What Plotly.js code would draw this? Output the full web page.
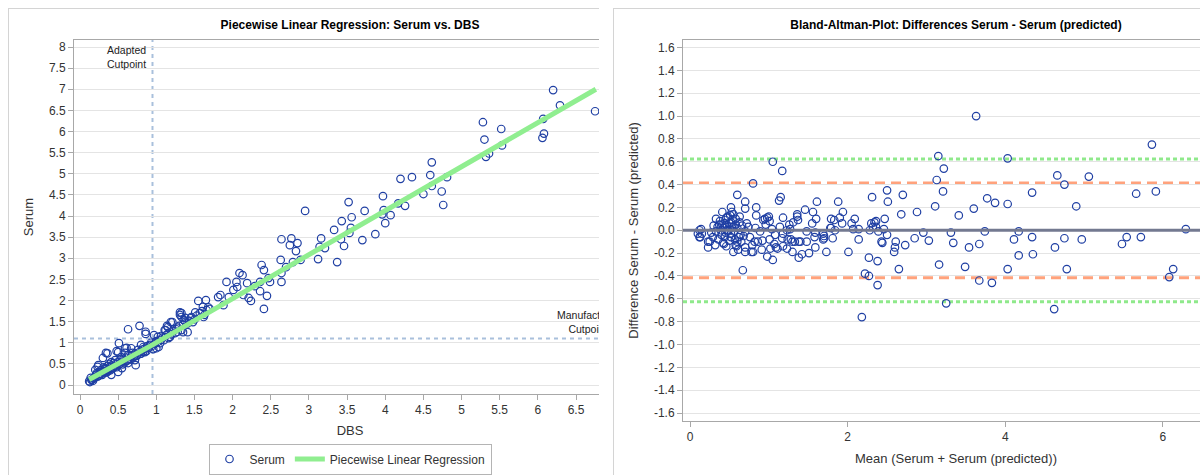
<!DOCTYPE html>
<html>
<head>
<meta charset="utf-8">
<script src="https://cdn.plot.ly/plotly-3.0.1.min.js"></script>
<style>
  html, body { margin: 0; padding: 0; background: #ffffff; width: 1200px; height: 475px; overflow: hidden; }
  .clip { position: absolute; top: 0; height: 475px; overflow: hidden; background: #fff; }
  .frame { position: absolute; border: 1px solid #d4d4d4; pointer-events: none; z-index: 5; }
  .plot { position: absolute; left: 0; top: 0; }
</style>
</head>
<body>
<div class="clip" id="clipL" style="left:0px;width:599px;">
  <div class="plot" id="left"></div>
  <div class="frame" style="left:8px;top:8px;width:683px;height:500px;"></div>
</div>
<div class="clip" id="clipR" style="left:600px;width:600px;">
  <div class="plot" id="right"></div>
  <div class="frame" style="left:13px;top:8px;width:700px;height:500px;"></div>
</div>
<script>
// ---------------- Left panel data: Serum vs. DBS ----------------
const dbs = [
  2.95,2.64,2.77,3.16,3.33,3.43,3.52,3.56,3.55,3.53,3.42,3.70,3.73,3.87,3.97,3.96,3.98,4.00,4.07,4.20,4.17,4.26,4.35,4.50,4.59,4.61,4.61,4.74,4.76,4.81,
  5.28,5.30,5.32,5.36,5.52,5.53,6.07,6.08,6.06,6.20,6.29,6.75,
  2.75,2.85,2.83,3.14,3.21,3.12,3.37,3.46,2.63,2.70,2.79,2.89,2.38,2.41,2.47,2.49,2.64,2.64,2.36,2.29,2.36,2.45,2.41,
  2.09,2.13,2.05,1.92,2.06,2.01,2.14,2.21,2.24,2.19,1.95,1.88,1.81,1.84,1.55,1.65,1.61,1.62,1.66,1.51,1.46,1.41,1.31,1.33,1.36,
  1.28,1.33,1.21,1.14,1.12,1.16,1.06,1.00,0.97,1.03,0.96,0.86,0.86,0.78,0.63,0.51,0.73,0.61,0.80,0.83,0.48,0.36,0.23,0.55,
  0.34,0.50,0.59,0.67,0.30,0.24,0.20,0.14,0.13,0.17,0.21,0.26,0.33,0.39,0.41,0.46,0.54,0.59,0.63,0.69,0.76,0.83,0.85,0.92,
  1.00,1.05,1.11,1.19,1.15,1.31,1.33,1.38,1.35,1.41,1.48,1.02,1.06,1.18,1.25,0.41,0.50,0.63,0.72,
  0.15,0.18,0.20,0.22,0.25,0.27,0.28,0.30,0.31,0.32,0.34,0.35,0.36,0.37,0.38,0.40,0.42,0.43,0.44,0.45,0.47,0.48,0.50,0.52,0.53,
  0.55,0.57,0.58,0.60,0.62,0.64,0.66,0.68,0.70,0.72,0.75,0.78,0.80,0.82,0.85,0.88,0.90,0.93,0.95,0.98,1.02,1.08,1.10,1.13,1.16,
  1.20,1.22,1.26,1.28,1.30,1.35,1.38,1.43,1.45,1.50,1.53,1.57,1.60,1.63,1.68,1.70,
  0.12,0.16,0.19,0.23,0.26,0.29,0.33,0.37,0.40,0.44,0.49,0.56,0.61,0.65,0.71,0.74,0.79,0.87
];
const serum = [
  4.12,3.45,3.47,3.47,3.67,3.88,4.33,3.97,3.72,3.60,3.45,3.43,4.12,3.57,4.47,4.04,4.14,3.83,4.02,4.88,4.30,4.24,4.92,4.52,4.97,5.27,4.71,4.58,4.26,4.92,
  6.22,5.81,5.40,5.48,6.06,5.67,6.30,5.95,5.85,6.98,6.62,6.48,
  3.31,3.36,3.17,3.27,3.24,2.98,2.91,3.29,2.96,2.79,2.91,2.96,2.84,2.72,2.53,2.44,2.65,2.44,2.44,2.34,2.22,2.11,1.80,
  2.65,2.60,2.44,2.44,2.32,2.25,2.13,2.06,1.99,2.41,2.08,1.89,2.08,2.13,1.99,2.01,1.85,1.61,1.77,1.72,1.61,1.46,1.72,1.61,1.54,
  1.26,1.30,1.49,1.40,1.30,1.11,1.16,1.04,1.18,0.90,0.85,1.26,1.21,1.40,1.32,0.99,0.47,0.88,0.95,0.79,0.80,0.75,0.43,0.40,
  0.76,0.78,0.87,0.87,0.64,0.47,0.36,0.17,0.07,0.10,0.24,0.31,0.40,0.43,0.54,0.59,0.66,0.76,0.71,0.76,0.83,0.90,0.78,0.95,
  0.87,0.99,1.30,1.49,1.37,1.66,1.70,1.59,1.25,1.25,1.49,1.14,1.07,1.14,1.23,0.24,0.31,0.52,0.59,
  0.12,0.15,0.20,0.28,0.22,0.35,0.26,0.30,0.42,0.33,0.38,0.30,0.45,0.36,0.50,0.38,0.46,0.40,0.52,0.44,0.50,0.42,0.55,0.50,0.60,
  0.55,0.62,0.52,0.65,0.58,0.68,0.62,0.70,0.66,0.75,0.70,0.78,0.74,0.84,0.86,0.92,0.88,1.00,0.93,0.98,1.02,1.12,1.06,1.18,1.22,
  1.20,1.28,1.32,1.36,1.40,1.42,1.50,1.52,1.58,1.55,1.64,1.70,1.75,1.66,1.84,1.80,
  0.09,0.13,0.17,0.20,0.25,0.24,0.30,0.33,0.35,0.41,0.45,0.49,0.57,0.60,0.68,0.69,0.74,0.80
];
// Piecewise regression line (knot at adapted cutpoint)
const fitX = [0.12, 0.95, 6.76];
const fitY = [0.13, 0.95, 7.00];
// Reference cutpoints
const adaptedCut = 0.95;
const manufCut = 1.1;
// Left axis ticks
const dbsTicks = [0,0.5,1,1.5,2,2.5,3,3.5,4,4.5,5,5.5,6,6.5];
const serumTicks = [0,0.5,1,1.5,2,2.5,3,3.5,4,4.5,5,5.5,6,6.5,7,7.5,8];

// ---------------- Right panel data: Bland-Altman ----------------
const baMean = [
  3.63,5.86,1.05,1.17,3.15,3.22,3.13,4.03,0.80,4.66,4.75,5.06,4.90,4.34,5.66,5.91,3.21,3.11,3.77,3.87,4.03,3.60,3.41,2.88,2.68,
  2.31,2.50,2.51,2.70,1.61,1.88,1.94,1.13,1.15,0.60,0.70,0.70,0.84,0.52,0.53,0.41,1.36,1.46,1.56,1.18,0.98,0.84,1.60,1.79,1.83,
  2.09,2.47,2.36,2.30,2.32,2.46,2.05,2.14,2.07,1.93,1.78,1.84,1.55,1.37,1.27,1.48,1.01,0.95,3.74,4.17,3.31,2.96,6.29,5.54,5.72,
  2.18,3.25,4.62,0.67,0.98,1.05,2.22,2.27,2.38,2.38,2.27,2.65,3.16,3.49,3.67,3.83,4.03,4.78,6.08,6.13,4.17,4.35,4.11,4.34,4.63,
  4.75,4.97,5.48,3.54,3.67,3.34,3.03,2.85,2.73,2.61,2.60,2.59,2.44,2.14,2.01,1.73,1.59,1.51,1.42,1.38,1.48,1.38,1.30,1.30,1.23,
  1.17,1.09,1.07,1.01,0.92,0.86,0.79,0.78,0.70,0.70,0.55,0.58,0.61,0.43,0.32,0.23,0.23,0.13,1.70,1.81,1.70,2.50,
  0.33,0.37,0.46,0.51,0.52,0.44,0.58,0.55,0.39,0.48,0.33,0.29,0.25,0.36,0.42,0.46,0.52,0.57,0.64,0.70,0.74,0.76,0.82,0.89,0.93,
  0.96,1.00,0.83,0.12,0.14,0.15,0.10,0.12,1.04,1.08,1.14,1.18,1.23,1.26,1.31,1.28,1.33,1.36,1.40,1.59,1.58,1.69,1.69,1.79,1.90,
  2.28,2.34,2.36,2.39,2.43,0.91,0.59,0.80,1.02,1.11,1.18,1.24,
  0.35,0.38,0.40,0.42,0.44,0.45,0.47,0.49,0.50,0.52,0.54,0.56,0.58,0.60,0.62,0.63,0.65,0.66,0.68,0.72,0.45,0.48,0.50,0.53,0.41,
  0.60,0.55,0.63,0.30,0.27
];
const baDiff = [
  1.00,0.75,0.60,0.52,0.65,0.54,0.44,0.63,0.41,0.48,0.40,0.47,0.21,0.33,0.32,0.34,0.34,0.21,0.28,0.24,0.23,0.19,0.13,0.16,0.14,
  0.29,0.35,0.25,0.31,0.25,0.25,0.16,0.26,0.29,0.31,0.25,0.19,0.20,0.20,0.16,0.16,0.14,0.18,0.16,0.11,0.11,0.13,0.10,0.10,0.09,
  0.10,0.10,0.08,0.06,0.03,0.01,0.06,0.01,0.01,0.06,0.02,0.00,0.06,0.09,0.01,-0.01,0.08,0.10,-0.01,-0.01,-0.02,-0.02,0.01,-0.06,-0.06,
  -0.76,-0.64,-0.69,-0.35,-0.23,-0.26,-0.38,-0.40,-0.48,-0.27,-0.24,-0.34,-0.30,-0.32,-0.44,-0.46,-0.34,-0.34,-0.41,-0.34,-0.22,-0.21,-0.08,-0.06,-0.15,
  -0.07,-0.08,-0.12,-0.15,-0.12,-0.11,-0.09,-0.07,-0.13,-0.10,-0.15,-0.19,-0.11,-0.08,-0.19,-0.19,-0.15,-0.20,-0.21,-0.24,-0.10,-0.10,-0.10,-0.19,-0.16,
  -0.07,-0.15,-0.12,-0.08,-0.09,-0.10,-0.13,-0.19,-0.19,-0.15,-0.19,-0.13,-0.17,-0.12,-0.13,-0.15,-0.10,-0.06,-0.07,-0.07,-0.05,-0.04,
  0.10,0.05,0.11,0.13,0.07,0.06,0.05,0.03,0.00,-0.01,-0.01,-0.06,-0.10,-0.08,-0.11,-0.14,-0.06,-0.08,-0.04,-0.01,0.03,-0.06,-0.10,-0.01,0.09,
  0.05,0.12,0.02,0.00,0.01,-0.03,-0.03,-0.06,0.01,-0.04,0.03,-0.03,0.00,0.05,0.07,-0.08,-0.10,0.12,-0.10,-0.02,-0.06,-0.03,-0.08,0.02,0.11,
  0.00,0.07,0.03,-0.01,-0.10,-0.17,-0.14,-0.19,-0.16,-0.16,-0.14,-0.08,
  0.03,0.08,-0.04,0.02,-0.06,0.09,0.04,0.00,0.06,-0.03,0.09,-0.01,0.10,0.02,-0.06,0.07,-0.10,0.04,-0.05,0.06,-0.02,0.12,-0.09,0.03,0.05,
  -0.10,0.14,0.12,0.04,-0.02
];
const meanDiff = 0.0;
const loa95 = [-0.415, 0.415];
const loa99 = [-0.625, 0.625];
const baXTicks = [0, 2, 4, 6];
const baTickVals = [-1.6,-1.4,-1.2,-1.0,-0.8,-0.6,-0.4,-0.2,0.0,0.2,0.4,0.6,0.8,1.0,1.2,1.4,1.6];
const baTickText = ["-1.6","-1.4","-1.2","-1.0","-0.8","-0.6","-0.4","-0.2","0.0","0.2","0.4","0.6","0.8","1.0","1.2","1.4","1.6"];

// ---------------- Styling ----------------
const FONT = "Liberation Sans, Arial, sans-serif";
const MARK = "#1f3fa3";
const AXC = "#a8a8a8";
const GRID = "#e4e4e4";
const TICKF = {family: FONT, size: 12, color: "#333333"};

function axisBase() {
  return {
    showline: true, linecolor: AXC, linewidth: 1, mirror: true,
    ticks: "outside", ticklen: 5, tickcolor: AXC, tickwidth: 1,
    tickfont: TICKF, zeroline: false, fixedrange: true, automargin: false
  };
}

// ---------------- Left figure ----------------
const leftTraces = [
  {x: dbs, y: serum, type: "scatter", mode: "markers", name: "Serum",
   marker: {symbol: "circle-open", size: 7.5, color: MARK, line: {width: 1.2, color: MARK}}},
  {x: fitX, y: fitY, type: "scatter", mode: "lines", name: "Piecewise Linear Regression",
   line: {color: "#90EE90", width: 5}}
];
const refC = "#a9c0dc";
const leftLayout = {
  width: 700, height: 475,
  margin: {l: 74, r: 74, t: 40, b: 81, autoexpand: false},
  paper_bgcolor: "rgba(0,0,0,0)", plot_bgcolor: "#ffffff",
  font: {family: FONT, color: "#333333"},
  title: {text: "Piecewise Linear Regression: Serum vs. DBS", x: 0.5, xref: "paper", xanchor: "center",
          y: 1 - 25/475, yref: "container", yanchor: "middle",
          font: {family: FONT, size: 12, color: "#000000", weight: "bold"}},
  xaxis: Object.assign(axisBase(), {range: [-0.0786, 7.155], tickmode: "array", tickvals: dbsTicks, showgrid: false,
          title: {text: "DBS", font: {family: FONT, size: 13, color: "#333333"}, standoff: 9}}),
  yaxis: Object.assign(axisBase(), {range: [-0.213, 8.166], tickmode: "array", tickvals: serumTicks, showgrid: true, gridcolor: GRID,
          title: {text: "Serum", font: {family: FONT, size: 13, color: "#333333"}, standoff: 12}}),
  showlegend: true,
  legend: {orientation: "h", x: 0.5, xref: "paper", xanchor: "center", y: (475-459)/475, yref: "container", yanchor: "middle",
           bordercolor: "#b4b4b4", borderwidth: 1, bgcolor: "#ffffff",
           font: {family: FONT, size: 12, color: "#333333"}, itemwidth: 30, tracegroupgap: 0},
  shapes: [
    {type: "line", xref: "x", yref: "paper", x0: adaptedCut, x1: adaptedCut, y0: 0, y1: 1, layer: "between",
     line: {color: refC, width: 2, dash: "4px,4px"}},
    {type: "line", xref: "paper", yref: "y", x0: 0, x1: 1, y0: manufCut, y1: manufCut, layer: "between",
     line: {color: refC, width: 2, dash: "4px,4px"}}
  ],
  annotations: [
    {text: "Adapted<br>Cutpoint", xref: "x", yref: "paper", x: adaptedCut, y: 1, xanchor: "right", yanchor: "top",
     xshift: -4, yshift: -2, align: "right", showarrow: false, font: {family: FONT, size: 10.5, color: "#222222"}},
    {text: "Manufacturer<br>Cutpoint", xref: "x", yref: "y", x: 6.66, y: manufCut, xanchor: "center", yanchor: "bottom",
     yshift: 2, align: "center", showarrow: false, font: {family: FONT, size: 10.5, color: "#222222"}}
  ]
};

// ---------------- Right figure ----------------
const rightTraces = [
  {x: baMean, y: baDiff, type: "scatter", mode: "markers", name: "Difference",
   marker: {symbol: "circle-open", size: 7.5, color: MARK, line: {width: 1.2, color: MARK}}, showlegend: false}
];
const hline = (yv, color, width, dash, layer) => ({type: "line", xref: "paper", yref: "y", x0: 0, x1: 1, y0: yv, y1: yv,
  layer: layer, line: {color: color, width: width, dash: dash}});
const rightLayout = {
  width: 700, height: 475,
  margin: {l: 83, r: 71, t: 40, b: 54, autoexpand: false},
  paper_bgcolor: "rgba(0,0,0,0)", plot_bgcolor: "#ffffff",
  font: {family: FONT, color: "#333333"},
  showlegend: false,
  title: {text: "Bland-Altman-Plot: Differences Serum - Serum (predicted)", x: 0.5, xref: "paper", xanchor: "center",
          y: 1 - 25/475, yref: "container", yanchor: "middle",
          font: {family: FONT, size: 12, color: "#000000", weight: "bold"}},
  xaxis: Object.assign(axisBase(), {range: [-0.0888, 6.838], tickmode: "array", tickvals: baXTicks, showgrid: false,
          title: {text: "Mean (Serum + Serum (predicted))", font: {family: FONT, size: 13, color: "#333333"}, standoff: 10}}),
  yaxis: Object.assign(axisBase(), {range: [-1.670, 1.666], tickmode: "array", tickvals: baTickVals, ticktext: baTickText,
          showgrid: true, gridcolor: GRID,
          title: {text: "Difference Serum - Serum (predicted)", font: {family: FONT, size: 13, color: "#333333"}, standoff: 12}}),
  shapes: [
    hline(meanDiff, "#737990", 3, "solid", "above"),
    hline(loa95[0], "#ffa27c", 3, "10px,6px", "between"),
    hline(loa95[1], "#ffa27c", 3, "10px,6px", "between"),
    hline(loa99[0], "#8fe98b", 3, "4px,3px", "between"),
    hline(loa99[1], "#8fe98b", 3, "4px,3px", "between")
  ]
};

const cfg = {displayModeBar: false, staticPlot: true};
Plotly.newPlot("left", leftTraces, leftLayout, cfg);
Plotly.newPlot("right", rightTraces, rightLayout, cfg);
</script>
</body>
</html>
